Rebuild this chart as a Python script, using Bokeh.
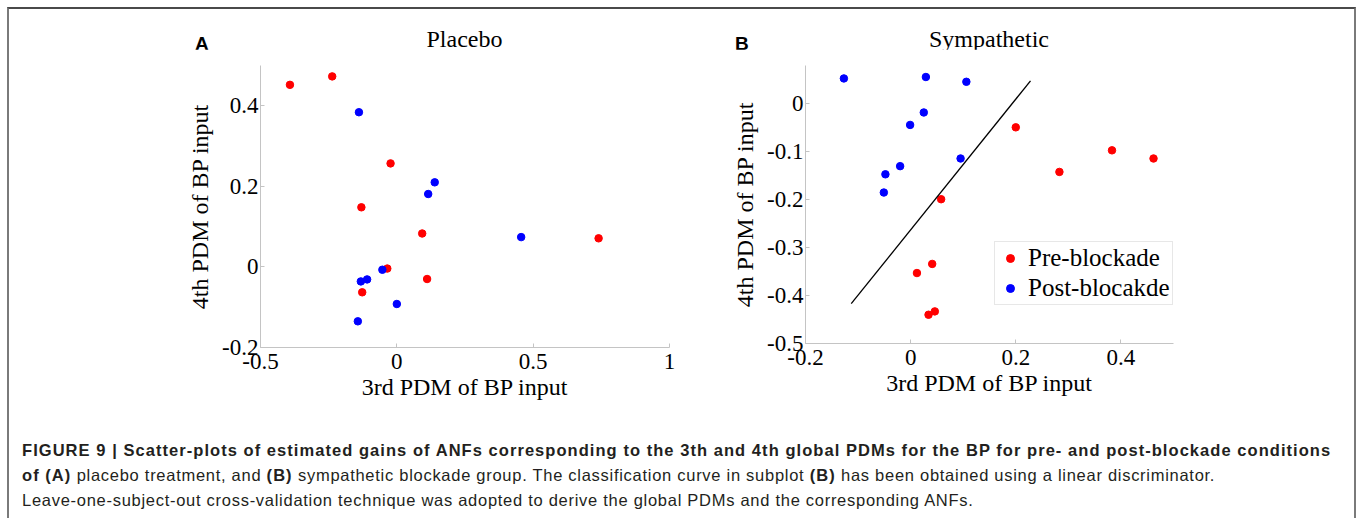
from bokeh.plotting import figure
from bokeh.layouts import row, column
from bokeh.models import FixedTicker, Legend, LegendItem, Div, Range1d
from bokeh.embed import file_html
from bokeh.resources import INLINE

# ---------------- data ----------------
# Panel A (Placebo)
a_pre_x = [-0.392, -0.237, -0.023, -0.130, 0.093, 0.740, -0.035, 0.111, -0.127]
a_pre_y = [0.452, 0.473, 0.257, 0.148, 0.083, 0.071, -0.004, -0.030, -0.063]
a_post_x = [-0.139, 0.139, 0.115, 0.456, -0.053, -0.109, -0.132, 0.000, -0.143]
a_post_y = [0.384, 0.210, 0.181, 0.074, -0.007, -0.031, -0.036, -0.092, -0.135]

# Panel B (Sympathetic)
b_pre_x = [0.200, 0.383, 0.462, 0.283, 0.058, 0.041, 0.012, 0.046, 0.034]
b_pre_y = [-0.049, -0.097, -0.114, -0.142, -0.199, -0.334, -0.353, -0.433, -0.440]
b_post_x = [-0.127, 0.029, 0.106, 0.025, -0.001, 0.095, -0.020, -0.048, -0.051]
b_post_y = [0.053, 0.056, 0.046, -0.018, -0.044, -0.114, -0.130, -0.147, -0.185]

# linear discriminator line (panel B)
b_line_x = [-0.113, 0.228]
b_line_y = [-0.417, 0.048]

# axes
a_x_range = [-0.5, 1.0]
a_y_range = [-0.2, 0.5]
b_x_range = [-0.2, 0.5]
b_y_range = [-0.5, 0.08]

a_xticks = [-0.5, 0, 0.5, 1]
a_xlabels = ["-0.5", "0", "0.5", "1"]
a_yticks = [-0.2, 0, 0.2, 0.4]
a_ylabels = ["-0.2", "0", "0.2", "0.4"]
b_xticks = [-0.2, 0, 0.2, 0.4]
b_xlabels = ["-0.2", "0", "0.2", "0.4"]
b_yticks = [-0.5, -0.4, -0.3, -0.2, -0.1, 0]
b_ylabels = ["-0.5", "-0.4", "-0.3", "-0.2", "-0.1", "0"]

titles = ["Placebo", "Sympathetic"]
panel_letters = ["A", "B"]
x_label = "3rd PDM of BP input"
y_label = "4th PDM of BP input"
legend_labels = ["Pre-blockade", "Post-blocakde"]

caption_lines = [
    "<b>FIGURE 9 | Scatter-plots of estimated gains of ANFs corresponding to the 3th and 4th global PDMs for the BP for pre- and post-blockade conditions</b>",
    "<b>of (A)</b> placebo treatment, and <b>(B)</b> sympathetic blockade group. The classification curve in subplot <b>(B)</b> has been obtained using a linear discriminator.",
    "Leave-one-subject-out cross-validation technique was adopted to derive the global PDMs and the corresponding ANFs.",
]

SERIF = "Liberation Serif"
AXIS_COLOR = "#c4c4c4"
TOTAL_W = 1345


def make_panel(xr, yr, xt, xl, yt, yl, frame_w, frame_h, mb):
    p = figure(title=None, frame_width=frame_w, frame_height=frame_h,
               x_range=Range1d(*xr), y_range=Range1d(*yr),
               output_backend="svg", toolbar_location=None,
               min_border_left=mb[0], min_border_right=mb[1],
               min_border_top=mb[2], min_border_bottom=mb[3])
    p.outline_line_color = None
    p.grid.visible = False
    p.background_fill_color = "white"
    p.border_fill_color = "white"
    for ax, ticks, labels, lab in ((p.xaxis[0], xt, xl, x_label), (p.yaxis[0], yt, yl, y_label)):
        ax.ticker = FixedTicker(ticks=ticks)
        ax.major_label_overrides = {float(t): s for t, s in zip(ticks, labels)}
        ax.minor_tick_line_color = None
        ax.major_tick_in = 4
        ax.major_tick_out = 0
        ax.axis_line_color = AXIS_COLOR
        ax.major_tick_line_color = AXIS_COLOR
        ax.major_label_text_font = SERIF
        ax.major_label_text_font_size = "23px"
        ax.major_label_text_color = "black"
        ax.axis_label = lab
        ax.axis_label_text_font = SERIF
        ax.axis_label_text_font_size = "24px"
        ax.axis_label_text_font_style = "normal"
        ax.axis_label_text_color = "black"
    p.xaxis.major_label_standoff = 6
    p.yaxis.major_label_standoff = 2
    p.xaxis.axis_label_standoff = 2
    p.yaxis.axis_label_standoff = 6
    return p


pA = make_panel(a_x_range, a_y_range, a_xticks, a_xlabels, a_yticks, a_ylabels,
                409, 282, (251, 51, 14, 75))
pA.scatter(a_pre_x, a_pre_y, size=7.5, color="#ff0000")
pA.scatter(a_post_x, a_post_y, size=7.5, color="#0000ff")

pB = make_panel(b_x_range, b_y_range, b_xticks, b_xlabels, b_yticks, b_ylabels,
                368, 278, (85, 181, 16, 77))
rB_pre = pB.scatter(b_pre_x, b_pre_y, size=7.5, color="#ff0000")
rB_post = pB.scatter(b_post_x, b_post_y, size=7.5, color="#0000ff")
pB.line(b_line_x, b_line_y, line_color="black", line_width=1.3)

legend = Legend(items=[LegendItem(label=legend_labels[0], renderers=[rB_pre]),
                       LegendItem(label=legend_labels[1], renderers=[rB_post])],
                location=(189, 38))
legend.label_text_font = SERIF
legend.label_text_font_size = "25px"
legend.label_text_color = "black"
legend.border_line_color = "#cfcfcf"
legend.border_line_width = 1
legend.background_fill_color = "white"
legend.padding = 2
legend.spacing = 2
legend.margin = 0
legend.glyph_width = 26
legend.label_standoff = 5
pB.add_layout(legend)

# header: panel letters and panel titles
letter_css = "position:absolute;top:24.8px;font-family:'Liberation Sans',Arial,sans-serif;font-weight:bold;font-size:19px;line-height:1;color:black;white-space:nowrap;"
title_css = "position:absolute;top:17.9px;transform:translateX(-50%);font-family:'Liberation Serif',serif;font-size:24px;line-height:1;color:black;white-space:nowrap;"
header_html = (
    f'<div style="position:relative;width:{TOTAL_W}px;height:40px;">'
    f'<span style="{letter_css}left:186px;">{panel_letters[0]}</span>'
    f'<span style="{title_css}left:455.5px;">{titles[0]}</span>'
    f'<span style="{letter_css}left:726px;">{panel_letters[1]}</span>'
    f'<span style="{title_css}left:980px;">{titles[1]}</span>'
    '</div>'
)
header = Div(text=header_html, width=TOTAL_W, height=40, margin=0)

caption_html = (
    '<div style="font-family:\'Liberation Sans\',Arial,sans-serif;font-size:16.5px;'
    'line-height:25px;color:#231f20;padding:18px 0 0 13px;white-space:nowrap;letter-spacing:0.72px;">'
    + "<br>".join(l.replace("<b>", '<b style="letter-spacing:1.05px;">') for l in caption_lines)
    + "</div>"
)
cap = Div(text=caption_html, width=TOTAL_W, height=98, margin=0)

layout = column(header, row(pA, pB), cap,
                styles={"margin": "7px 0 0 7px",
                        "border-top": "2px solid #4a4a4a",
                        "border-left": "2px solid #7a7a7a",
                        "border-right": "2px solid #7a7a7a"})

open("out.html", "w").write(file_html(layout, INLINE))
